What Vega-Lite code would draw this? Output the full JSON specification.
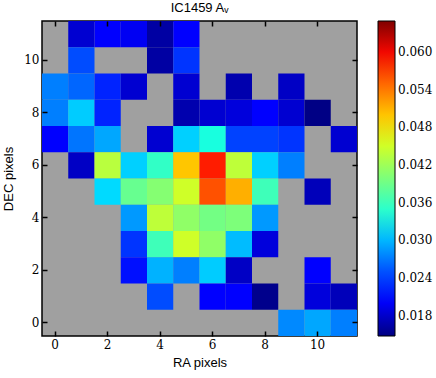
{
  "$schema": "https://vega.github.io/schema/vega-lite/v6.json",
  "width": 315,
  "height": 315,
  "autosize": "none",
  "padding": {"left": 42, "top": 21, "right": 79, "bottom": 42},
  "title": {"text": "IC1459 Aᵥ", "font": "Liberation Sans", "fontSize": 13, "fontWeight": "normal", "color": "black", "offset": 5, "anchor": "middle", "frame": "group"},
  "data": {"values": [
    {"x": 1, "y": 11, "v": 0.0183}, {"x": 2, "y": 11, "v": 0.0208}, {"x": 3, "y": 11, "v": 0.0198}, {"x": 4, "y": 11, "v": 0.0163}, {"x": 5, "y": 11, "v": 0.0208},
    {"x": 1, "y": 10, "v": 0.0248}, {"x": 4, "y": 10, "v": 0.0163}, {"x": 5, "y": 10, "v": 0.0236},
    {"x": 0, "y": 9, "v": 0.0273}, {"x": 1, "y": 9, "v": 0.0261}, {"x": 2, "y": 9, "v": 0.0228}, {"x": 3, "y": 9, "v": 0.0183}, {"x": 5, "y": 9, "v": 0.0183}, {"x": 7, "y": 9, "v": 0.0168}, {"x": 9, "y": 9, "v": 0.0178},
    {"x": 0, "y": 8, "v": 0.0273}, {"x": 1, "y": 8, "v": 0.0311}, {"x": 2, "y": 8, "v": 0.0228}, {"x": 5, "y": 8, "v": 0.0168}, {"x": 6, "y": 8, "v": 0.0183}, {"x": 7, "y": 8, "v": 0.0188}, {"x": 8, "y": 8, "v": 0.0208}, {"x": 9, "y": 8, "v": 0.0183}, {"x": 10, "y": 8, "v": 0.0150},
    {"x": 0, "y": 7, "v": 0.0203}, {"x": 1, "y": 7, "v": 0.0268}, {"x": 2, "y": 7, "v": 0.0293}, {"x": 4, "y": 7, "v": 0.0183}, {"x": 5, "y": 7, "v": 0.0313}, {"x": 6, "y": 7, "v": 0.0338}, {"x": 7, "y": 7, "v": 0.0243}, {"x": 8, "y": 7, "v": 0.0243}, {"x": 9, "y": 7, "v": 0.0236}, {"x": 11, "y": 7, "v": 0.0183},
    {"x": 1, "y": 6, "v": 0.0178}, {"x": 2, "y": 6, "v": 0.0436}, {"x": 3, "y": 6, "v": 0.0313}, {"x": 4, "y": 6, "v": 0.0353}, {"x": 5, "y": 6, "v": 0.0499}, {"x": 6, "y": 6, "v": 0.0589}, {"x": 7, "y": 6, "v": 0.0439}, {"x": 8, "y": 6, "v": 0.0313}, {"x": 9, "y": 6, "v": 0.0273},
    {"x": 2, "y": 5, "v": 0.0318}, {"x": 3, "y": 5, "v": 0.0386}, {"x": 4, "y": 5, "v": 0.0404}, {"x": 5, "y": 5, "v": 0.0449}, {"x": 6, "y": 5, "v": 0.0561}, {"x": 7, "y": 5, "v": 0.0511}, {"x": 8, "y": 5, "v": 0.0361}, {"x": 10, "y": 5, "v": 0.0173},
    {"x": 3, "y": 4, "v": 0.0286}, {"x": 4, "y": 4, "v": 0.0439}, {"x": 5, "y": 4, "v": 0.0411}, {"x": 6, "y": 4, "v": 0.0393}, {"x": 7, "y": 4, "v": 0.0399}, {"x": 8, "y": 4, "v": 0.0286},
    {"x": 3, "y": 3, "v": 0.0236}, {"x": 4, "y": 3, "v": 0.0361}, {"x": 5, "y": 3, "v": 0.0449}, {"x": 6, "y": 3, "v": 0.0411}, {"x": 7, "y": 3, "v": 0.0303}, {"x": 8, "y": 3, "v": 0.0188},
    {"x": 3, "y": 2, "v": 0.0218}, {"x": 4, "y": 2, "v": 0.0298}, {"x": 5, "y": 2, "v": 0.0273}, {"x": 6, "y": 2, "v": 0.0311}, {"x": 7, "y": 2, "v": 0.0178}, {"x": 10, "y": 2, "v": 0.0203},
    {"x": 4, "y": 1, "v": 0.0248}, {"x": 6, "y": 1, "v": 0.0208}, {"x": 7, "y": 1, "v": 0.0208}, {"x": 8, "y": 1, "v": 0.0153}, {"x": 10, "y": 1, "v": 0.0188}, {"x": 11, "y": 1, "v": 0.0173},
    {"x": 9, "y": 0, "v": 0.0278}, {"x": 10, "y": 0, "v": 0.0293}, {"x": 11, "y": 0, "v": 0.0273}
  ]},
  "layer": [
    {
      "mark": {"type": "rect"},
      "encoding": {
        "x": {"field": "x", "type": "ordinal", "scale": {"domain": [0,1,2,3,4,5,6,7,8,9,10,11], "paddingInner": 0, "paddingOuter": 0},
              "axis": {"orient": "bottom", "title": "RA pixels", "values": [0,2,4,6,8,10], "labelAngle": 0, "titlePadding": 6}},
        "y": {"field": "y", "type": "ordinal", "scale": {"domain": [11,10,9,8,7,6,5,4,3,2,1,0], "paddingInner": 0, "paddingOuter": 0},
              "axis": {"orient": "left", "title": "DEC pixels", "values": [0,2,4,6,8,10], "titlePadding": 8}},
        "color": {"field": "v", "type": "quantitative",
          "scale": {"domain": [0.0148, 0.020311, 0.021063, 0.031834, 0.032335, 0.033588, 0.046864, 0.047365, 0.047866, 0.059389, 0.060391, 0.0649],
                    "range": ["#000080", "#0000ff", "#0000ff", "#00dbff", "#00e6f7", "#15ffe2", "#efff08", "#f7f500", "#ffec00", "#ff1300", "#e80000", "#800000"],
                    "interpolate": "rgb"},
          "legend": {"title": null, "values": [0.018, 0.024, 0.030, 0.036, 0.042, 0.048, 0.054, 0.060], "format": ".3f",
                     "gradientLength": 315, "gradientThickness": 17, "gradientStrokeColor": "black", "gradientStrokeWidth": 1,
                     "labelFont": "DejaVu Serif", "labelFontSize": 12, "labelColor": "black", "labelOverlap": false,
                     "offset": 20, "padding": 0, "labelOffset": 3}}
      }
    },
    {
      "mark": {"type": "rect", "opacity": 0},
      "encoding": {
        "x": {"field": "x", "type": "ordinal", "axis": {"orient": "top", "title": null, "labels": false, "values": [0,2,4,6,8,10]}},
        "y": {"field": "y", "type": "ordinal", "axis": {"orient": "right", "title": null, "labels": false, "values": [0,2,4,6,8,10]}}
      }
    }
  ],
  "resolve": {"axis": {"x": "independent", "y": "independent"}},
  "config": {
    "view": {"fill": "#a0a0a0", "stroke": "black", "strokeWidth": 1.5},
    "axis": {"domain": false, "ticks": true, "tickColor": "black", "tickSize": -5, "tickWidth": 1.5, "grid": false,
             "labelFont": "DejaVu Serif", "labelFontSize": 12, "labelColor": "black", "labelPadding": 8,
             "titleFont": "Liberation Sans", "titleFontSize": 13, "titleFontWeight": "normal", "titleColor": "black"}
  }
}
